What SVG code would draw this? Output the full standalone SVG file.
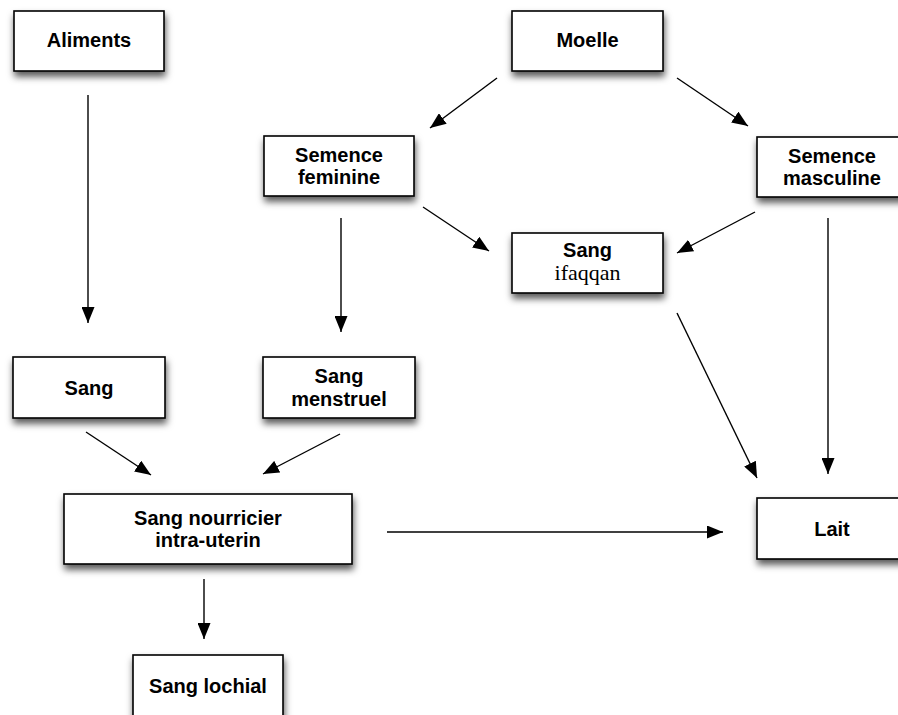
<svg xmlns="http://www.w3.org/2000/svg" width="898" height="715" viewBox="0 0 898 715">
  <defs>
    <filter id="shadow" x="-20%" y="-20%" width="140%" height="170%">
      <feDropShadow dx="1" dy="5" stdDeviation="3.5" flood-color="#000" flood-opacity="0.65"/>
    </filter>
    <marker id="arrow" markerUnits="userSpaceOnUse" markerWidth="17" markerHeight="13" refX="16" refY="6.5" orient="auto">
      <path d="M0,0 L16,6.5 L0,13 Z" fill="#000"/>
    </marker>
  </defs>
  <style>
    .box { fill: #fff; stroke: #000; stroke-width: 1.6; filter: url(#shadow); }
    .lbl { font-family: "Liberation Sans", Arial, sans-serif; font-weight: bold; font-size: 20px; fill: #000; text-anchor: middle; }
    .sub { font-family: "Liberation Serif", "Times New Roman", serif; font-size: 22px; fill: #000; text-anchor: middle; }
    .edge { stroke: #000; stroke-width: 1.4; fill: none; marker-end: url(#arrow); }
  </style>
  <rect width="898" height="715" fill="#fff"/>

  <g id="connectors">
    <line class="edge" x1="88" y1="95" x2="88" y2="323"/>
    <line class="edge" x1="341" y1="218" x2="341" y2="332"/>
    <line class="edge" x1="86" y1="432" x2="151" y2="475"/>
    <line class="edge" x1="340" y1="434" x2="263" y2="474"/>
    <line class="edge" x1="497" y1="78" x2="430" y2="128"/>
    <line class="edge" x1="677" y1="78" x2="748" y2="126"/>
    <line class="edge" x1="423" y1="207" x2="489" y2="251"/>
    <line class="edge" x1="755" y1="212" x2="677" y2="253"/>
    <line class="edge" x1="677" y1="313" x2="757" y2="478"/>
    <line class="edge" x1="828" y1="218" x2="828" y2="474"/>
    <line class="edge" x1="387" y1="532" x2="723" y2="532"/>
    <line class="edge" x1="204" y1="579" x2="204" y2="639"/>
  </g>

  <g id="aliments">
    <rect class="box" x="14" y="11" width="150" height="60"/>
    <text class="lbl" x="89" y="47">Aliments</text>
  </g>
  <g id="moelle">
    <rect class="box" x="512" y="11" width="151" height="60"/>
    <text class="lbl" x="587.5" y="47">Moelle</text>
  </g>
  <g id="semence-feminine">
    <rect class="box" x="264" y="136" width="150" height="60"/>
    <text class="lbl" x="339" y="162">Semence</text>
    <text class="lbl" x="339" y="184">feminine</text>
  </g>
  <g id="semence-masculine">
    <rect class="box" x="757" y="137" width="150" height="60"/>
    <text class="lbl" x="832" y="163">Semence</text>
    <text class="lbl" x="832" y="185">masculine</text>
  </g>
  <g id="sang-ifaqqan">
    <rect class="box" x="512" y="233" width="151" height="60"/>
    <text class="lbl" x="587.5" y="257">Sang</text>
    <text class="sub" x="587.5" y="280">ifaqqan</text>
  </g>
  <g id="sang">
    <rect class="box" x="13" y="357" width="152" height="61"/>
    <text class="lbl" x="89" y="395">Sang</text>
  </g>
  <g id="sang-menstruel">
    <rect class="box" x="263" y="357" width="152" height="61"/>
    <text class="lbl" x="339" y="383">Sang</text>
    <text class="lbl" x="339" y="406">menstruel</text>
  </g>
  <g id="sang-nourricier">
    <rect class="box" x="64" y="494" width="288" height="70"/>
    <text class="lbl" x="208" y="525">Sang nourricier</text>
    <text class="lbl" x="208" y="547">intra-uterin</text>
  </g>
  <g id="lait">
    <rect class="box" x="757" y="498" width="150" height="61"/>
    <text class="lbl" x="832" y="536">Lait</text>
  </g>
  <g id="sang-lochial">
    <rect class="box" x="133" y="655" width="150" height="62"/>
    <text class="lbl" x="208" y="693">Sang lochial</text>
  </g>
</svg>
